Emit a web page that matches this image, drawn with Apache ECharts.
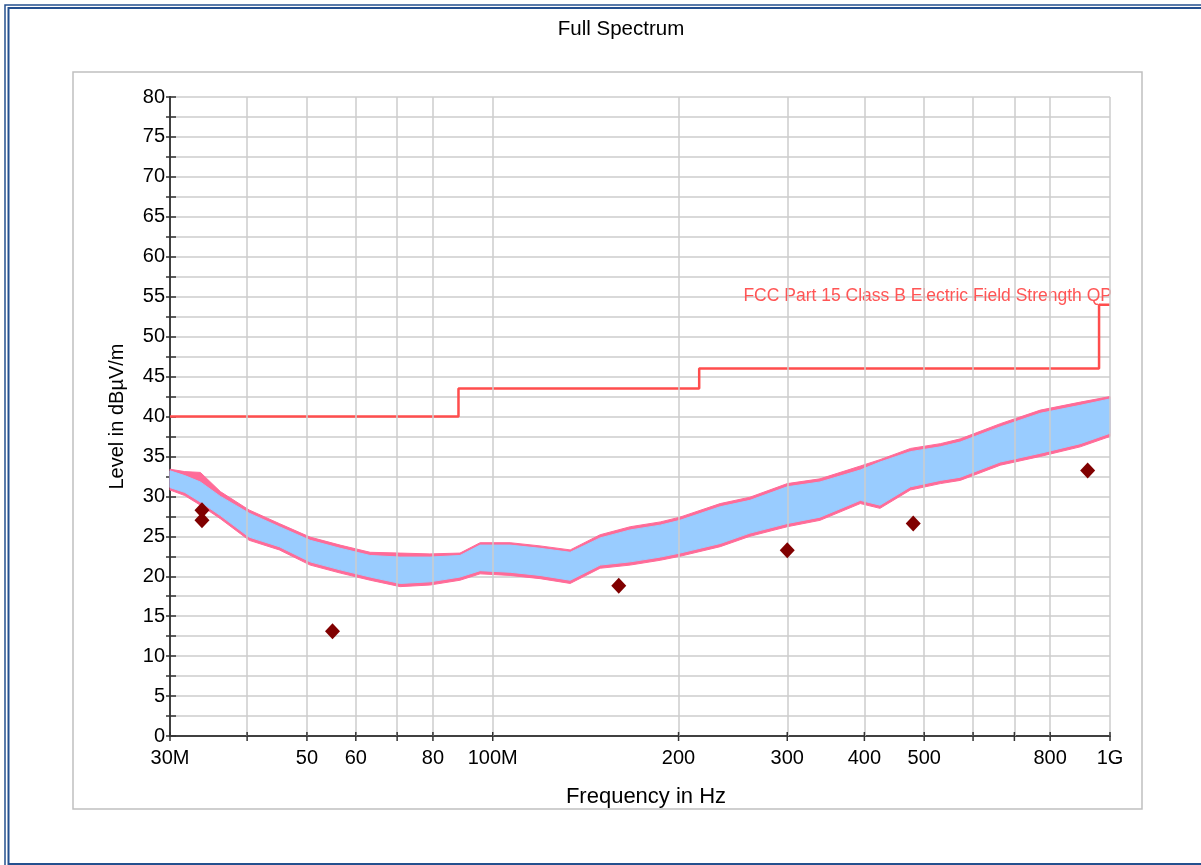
<!DOCTYPE html>
<html>
<head>
<meta charset="utf-8">
<script src="https://cdn.jsdelivr.net/npm/echarts@6/dist/echarts.min.js"></script>
<style>
  html, body { margin: 0; padding: 0; background: #fff; overflow: hidden; }
  #spectrum { width: 1201px; height: 865px; }
</style>
</head>
<body>
<div id="spectrum"></div>
<script>
// frequencies in MHz, levels in dBuV/m

// spectrum envelope
var bandFreq = [30, 31.7, 33.6, 36.2, 40.3, 45.1, 50.6, 56.6, 63.3, 70.8, 79.1, 88.5, 95.4, 106.7, 119.3, 133.5, 149.3, 167, 186.8, 201, 233.6, 261, 300, 339, 394, 424, 475, 531, 572, 664, 771, 895, 1000];
var blueLo = [31.1, 30.5, 29.3, 27.6, 24.9, 23.7, 21.8, 20.8, 19.9, 19.1, 19.3, 19.9, 20.7, 20.5, 20.1, 19.5, 21.4, 21.8, 22.4, 22.9, 24.1, 25.4, 26.6, 27.4, 29.5, 28.9, 31.2, 32.0, 32.4, 34.3, 35.4, 36.6, 37.9];
var blueHi = [33.2, 32.6, 31.8, 30.0, 27.9, 26.2, 24.5, 23.5, 22.6, 22.4, 22.4, 22.6, 23.9, 23.9, 23.5, 23.0, 24.8, 25.8, 26.4, 27.0, 28.7, 29.5, 31.2, 31.8, 33.3, 34.3, 35.6, 36.2, 36.8, 38.7, 40.4, 41.4, 42.2];
var pinkLo = [30.8, 30.1, 28.9, 27.2, 24.5, 23.3, 21.4, 20.4, 19.5, 18.7, 18.9, 19.5, 20.3, 20.1, 19.7, 19.1, 21.0, 21.4, 22.0, 22.5, 23.7, 25.0, 26.2, 27.0, 29.1, 28.5, 30.8, 31.6, 32.0, 33.9, 35.0, 36.2, 37.5];
var pinkHi = [33.4, 33.1, 33.0, 30.6, 28.3, 26.6, 24.9, 23.9, 23.0, 22.9, 22.8, 22.9, 24.2, 24.2, 23.8, 23.3, 25.2, 26.2, 26.8, 27.4, 29.1, 29.9, 31.6, 32.2, 33.8, 34.6, 36.0, 36.6, 37.2, 39.1, 40.8, 41.8, 42.5];

// FCC limit (step line)
var limitFreq = [30, 88, 88, 216, 216, 960, 960, 1000];
var limitLevel = [40, 40, 43.5, 43.5, 46, 46, 54, 54];

// quasi-peak final measurements
var qpFreq = [33.8, 33.8, 55, 160, 300, 480, 920];
var qpLevel = [28.25, 27.0, 13.1, 18.8, 23.25, 26.6, 33.25];

// x axis ticks / labels / grid
var xTickFreq = [30, 40, 50, 60, 70, 80, 100, 200, 300, 400, 500, 600, 700, 800, 1000];
var xTickText = ['30M', '', '50', '60', '', '80', '100M', '200', '300', '400', '500', '', '', '800', '1G'];
var xGridFreq = [40, 50, 60, 70, 80, 100, 200, 300, 400, 500, 600, 700, 800, 1000];

var FONT = 'Liberation Sans, Arial, sans-serif';

var chart = echarts.init(document.getElementById('spectrum'));

function bandSeries(name, lo, hi, color, z) {
  return {
    name: name,
    type: 'custom',
    z: z,
    silent: true,
    data: bandFreq.map(function (f, i) { return [f, lo[i], hi[i]]; }),
    renderItem: function (params, api) {
      if (params.dataIndex !== 0) return null;
      var pts = [];
      for (var i = 0; i < bandFreq.length; i++) pts.push(api.coord([bandFreq[i], hi[i]]));
      for (var j = bandFreq.length - 1; j >= 0; j--) pts.push(api.coord([bandFreq[j], lo[j]]));
      return { type: 'polygon', shape: { points: pts }, style: { fill: color, stroke: color, lineWidth: 1 } };
    }
  };
}

var option = {
  animation: false,
  backgroundColor: '#fff',
  title: {
    text: 'Full Spectrum',
    left: 616,
    top: 14,
    textAlign: 'center',
    textStyle: { fontFamily: FONT, fontSize: 20.5, fontWeight: 'normal', color: '#000' }
  },
  graphic: [
    { type: 'rect', shape: { x: 5, y: 5, width: 1240, height: 862 }, style: { fill: 'none', stroke: '#24508f', lineWidth: 1.5 }, silent: true },
    { type: 'rect', shape: { x: 8.5, y: 8, width: 1240, height: 856 }, style: { fill: 'none', stroke: '#24508f', lineWidth: 2 }, silent: true },
    { type: 'rect', shape: { x: 73, y: 72, width: 1069, height: 737 }, style: { fill: 'none', stroke: '#c0c0c0', lineWidth: 1.5 }, silent: true }
  ],
  grid: { left: 170, top: 97, right: 91, bottom: 129, containLabel: false },
  xAxis: {
    type: 'log',
    logBase: 10,
    min: 30,
    max: 1000,
    name: 'Frequency in Hz',
    nameLocation: 'middle',
    nameGap: 50,
    nameTextStyle: { fontFamily: FONT, fontSize: 22, color: '#000', padding: [0, 0, 0, 12] },
    axisLine: { show: true, lineStyle: { color: '#404040', width: 2 } },
    axisTick: { show: false },
    axisLabel: { show: false },
    splitLine: { show: false }
  },
  yAxis: [
    {
      type: 'value',
      min: 0,
      max: 80,
      interval: 2.5,
      name: 'Level in dBµV/m',
      nameLocation: 'middle',
      nameGap: 43,
      nameTextStyle: { fontFamily: FONT, fontSize: 20, color: '#000' },
      axisLine: { show: true, lineStyle: { color: '#404040', width: 2 } },
      axisTick: { show: true, inside: false, length: 4, lineStyle: { color: '#333', width: 1.5 } },
      axisLabel: {
        margin: 5,
        fontFamily: FONT,
        fontSize: 20,
        color: '#000',
        formatter: function (v) { return v % 5 === 0 ? String(v) : ''; }
      },
      splitLine: { show: true, lineStyle: { color: '#cccccc', width: 1.5 } }
    },
    {
      type: 'value',
      min: 0,
      max: 80,
      interval: 2.5,
      position: 'left',
      axisLine: { show: true, lineStyle: { color: '#404040', width: 2 } },
      axisTick: { show: true, inside: true, length: 6, lineStyle: { color: '#333', width: 1.5 } },
      axisLabel: { show: false },
      splitLine: { show: false }
    }
  ],
  series: [
    {
      name: 'grid',
      type: 'line',
      data: [],
      z: 1,
      markLine: {
        silent: true,
        symbol: 'none',
        label: { show: false },
        lineStyle: { color: '#cccccc', width: 1.5, type: 'solid' },
        data: xGridFreq.map(function (f) { return { xAxis: f }; })
      }
    },
    bandSeries('Peak', pinkLo, pinkHi, '#ff6b98', 2),
    bandSeries('Average', blueLo, blueHi, '#99ccff', 3),
    {
      name: 'FCC Part 15 Class B Electric Field Strength QP',
      type: 'line',
      z: 4,
      showSymbol: false,
      data: limitFreq.map(function (f, i) { return [f, limitLevel[i]]; }),
      lineStyle: { color: '#ff4d4d', width: 2.5 },
      endLabel: {
        show: true,
        formatter: 'FCC Part 15 Class B Electric Field Strength QP',
        fontFamily: FONT,
        fontSize: 17.5,
        color: '#ff5555',
        align: 'right',
        verticalAlign: 'bottom',
        distance: 0,
        offset: [2, 0]
      }
    },
    {
      name: 'QP',
      type: 'scatter',
      z: 5,
      symbol: 'diamond',
      symbolSize: [15, 16],
      itemStyle: { color: '#800000', opacity: 1 },
      data: qpFreq.map(function (f, i) { return [f, qpLevel[i]]; })
    },
    {
      name: 'xticks',
      type: 'custom',
      z: 6,
      clip: false,
      silent: true,
      data: xTickFreq.map(function (f, i) { return [f, 0, i]; }),
      renderItem: function (params, api) {
        var p = api.coord([api.value(0), 0]);
        var i = api.value(2);
        return {
          type: 'group',
          children: [
            { type: 'line', shape: { x1: p[0], y1: p[1] - 4, x2: p[0], y2: p[1] + 5 }, style: { stroke: '#333', lineWidth: 1.5 } },
            { type: 'text', style: { text: xTickText[i], x: p[0], y: p[1] + 12, align: 'center', verticalAlign: 'top', font: '20px ' + FONT, fill: '#000' } }
          ]
        };
      }
    }
  ]
};

chart.setOption(option);
</script>
</body>
</html>
